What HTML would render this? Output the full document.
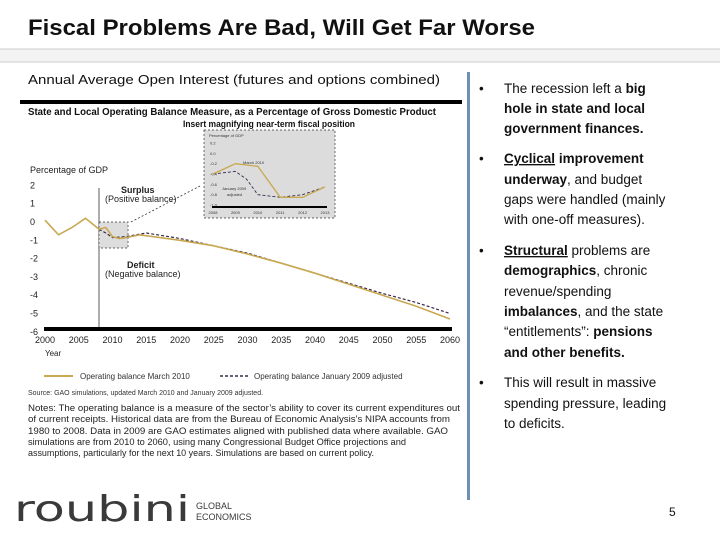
<!DOCTYPE html>
<html><head><meta charset="utf-8"><style>
html,body{margin:0;padding:0;background:#fff;}
svg{display:block;font-family:"Liberation Sans",sans-serif;}
</style></head><body>
<svg id="slide" width="720" height="540" viewBox="0 0 720 540">
<text x="28" y="35" font-size="22" font-weight="bold" fill="#111" textLength="507" lengthAdjust="spacingAndGlyphs">Fiscal Problems Are Bad, Will Get Far Worse</text>
<rect x="0" y="49" width="720" height="13" fill="#f3f3f3"/>
<line x1="0" y1="49" x2="720" y2="49" stroke="#ccc" stroke-width="1"/>
<line x1="0" y1="62" x2="720" y2="62" stroke="#ccc" stroke-width="1"/>
<text x="28" y="84" font-size="13" fill="#111" textLength="412" lengthAdjust="spacingAndGlyphs">Annual Average Open Interest (futures and options combined)</text>
<rect x="20" y="100" width="442" height="4" fill="#000"/>
<text x="28" y="115" font-size="10" font-weight="bold" fill="#111" textLength="408" lengthAdjust="spacingAndGlyphs">State and Local Operating Balance Measure, as a Percentage of Gross Domestic Product</text>
<text x="183" y="127" font-size="9" font-weight="bold" fill="#111" textLength="172" lengthAdjust="spacingAndGlyphs">Insert magnifying near-term fiscal position</text>
<text x="30" y="173" font-size="9" fill="#222">Percentage of GDP</text>
<text x="45" y="356" font-size="8" fill="#222">Year</text>
<g id="main"></g>
<g id="inset"></g>
<text x="121" y="193" font-size="9" font-weight="bold" fill="#222">Surplus</text>
<text x="105" y="202" font-size="9" fill="#222">(Positive balance)</text>
<text x="127" y="268" font-size="9" font-weight="bold" fill="#222">Deficit</text>
<text x="105" y="277" font-size="9" fill="#222">(Negative balance)</text>
<line x1="131" y1="222" x2="200" y2="186" stroke="#333" stroke-width="0.8" stroke-dasharray="2,2"/>
<line x1="44" y1="376" x2="73" y2="376" stroke="#c8a850" stroke-width="2"/>
<text x="80" y="379" font-size="8" fill="#333">Operating balance March 2010</text>
<line x1="220" y1="376" x2="248" y2="376" stroke="#3a2a4a" stroke-width="1.5" stroke-dasharray="3,2"/>
<text x="254" y="379" font-size="8" fill="#333">Operating balance January 2009 adjusted</text>
<text x="28" y="395" font-size="7" fill="#333">Source: GAO simulations, updated March 2010 and January 2009 adjusted.</text>
<g font-size="9" fill="#222">
<text x="28" y="411" textLength="432" lengthAdjust="spacingAndGlyphs">Notes: The operating balance is a measure of the sector’s ability to cover its current expenditures out</text>
<text x="28" y="422" textLength="422" lengthAdjust="spacingAndGlyphs">of current receipts. Historical data are from the Bureau of Economic Analysis's NIPA accounts from</text>
<text x="28" y="434" textLength="420" lengthAdjust="spacingAndGlyphs">1980 to 2008. Data in 2009 are GAO estimates aligned with published data where available. GAO</text>
<text x="28" y="445" textLength="378" lengthAdjust="spacingAndGlyphs">simulations are from 2010 to 2060, using many Congressional Budget Office projections and</text>
<text x="28" y="456" textLength="346" lengthAdjust="spacingAndGlyphs">assumptions, particularly for the next 10 years. Simulations are based on current policy.</text>
</g>
<text x="14" y="521" font-family="DejaVu Sans, sans-serif" font-size="36" fill="#3a3a3a" textLength="176" lengthAdjust="spacingAndGlyphs">roubini</text>
<text x="196" y="509" font-size="9" fill="#3a3a3a">GLOBAL</text>
<text x="196" y="520" font-size="9" fill="#3a3a3a">ECONOMICS</text>
<rect x="467" y="72" width="3" height="428" fill="#6f8fb5"/>
<g font-size="13.5" fill="#111">
<text x="479" y="93">•</text><text x="504" y="93">The recession left a <tspan font-weight="bold">big</tspan></text>
<text x="504" y="113" font-weight="bold">hole in state and local</text>
<text x="504" y="133" font-weight="bold">government finances.</text>
<text x="479" y="163">•</text><text x="504" y="163"><tspan font-weight="bold" text-decoration="underline">Cyclical</tspan> <tspan font-weight="bold">improvement</tspan></text>
<text x="504" y="184"><tspan font-weight="bold">underway</tspan>, and budget</text>
<text x="504" y="204">gaps were handled (mainly</text>
<text x="504" y="224">with one-off measures).</text>
<text x="479" y="255">•</text><text x="504" y="255"><tspan font-weight="bold" text-decoration="underline">Structural</tspan> problems are</text>
<text x="504" y="275"><tspan font-weight="bold">demographics</tspan>, chronic</text>
<text x="504" y="296">revenue/spending</text>
<text x="504" y="316"><tspan font-weight="bold">imbalances</tspan>, and the state</text>
<text x="504" y="336">“entitlements”: <tspan font-weight="bold">pensions</tspan></text>
<text x="504" y="357" font-weight="bold">and other benefits.</text>
<text x="479" y="387">•</text><text x="504" y="387">This will result in massive</text>
<text x="504" y="408">spending pressure, leading</text>
<text x="504" y="428">to deficits.</text>
</g>
<text x="669" y="516" font-size="12" fill="#111">5</text>
</svg>
<script>
const years = [2000,2002,2004,2006,2007,2008,2009,2010,2011,2012,2014,2020,2025,2030,2035,2040,2045,2050,2055,2060];
const march2010 = [0.1,-0.7,-0.3,0.2,-0.1,-0.4,-0.3,-0.8,-0.9,-0.85,-0.7,-1.0,-1.3,-1.75,-2.25,-2.8,-3.4,-4.0,-4.6,-5.3];
const yearsJan = [2008,2009,2010,2012,2015,2020,2025,2030,2035,2040,2045,2050,2055,2060];
const jan2009 = [-0.4,-0.6,-0.85,-0.8,-0.6,-0.9,-1.3,-1.7,-2.25,-2.8,-3.35,-3.9,-4.4,-5.0];
const yTicks = [2,1,0,-1,-2,-3,-4,-5,-6];
const xTicks = [2000,2005,2010,2015,2020,2025,2030,2035,2040,2045,2050,2055,2060];
const insetYears = [2008,2009,2010,2011,2012,2013];
const insetMarch = [-0.4,-0.2,-0.25,-0.85,-0.85,-0.65];
const insetJanYears = [2008,2009,2009.5,2010,2011,2012,2013];
const insetJan = [-0.4,-0.35,-0.5,-0.8,-0.85,-0.8,-0.65];
const insetYTicks = [0.2,0,-0.2,-0.4,-0.6,-0.8,-1.0];
const insetXTicks = [2008,2009,2010,2011,2012,2013];

const NS='http://www.w3.org/2000/svg';
function mk(tag,attrs,parent){const e=document.createElementNS(NS,tag);for(const k in attrs)e.setAttribute(k,attrs[k]);parent.appendChild(e);return e;}
const xs=y=>45+(y-2000)*405/60;
const ys=v=>222-v*18.3;
const main=document.getElementById('main');
yTicks.forEach(t=>{const e=mk('text',{x:30,y:ys(t)+3,'font-size':9,fill:'#222'},main);e.textContent=t;

});
const axis=mk('rect',{x:44,y:327,width:408,height:4,fill:'#000'},main);


xTicks.forEach(t=>{const e=mk('text',{x:xs(t),y:343,'font-size':9,fill:'#222','text-anchor':'middle'},main);e.textContent=t;

});
const vl=mk('line',{x1:xs(2008),y1:188,x2:xs(2008),y2:327,stroke:'#333','stroke-width':0.8},main);


const box=mk('rect',{x:xs(2008),y:222,width:xs(2012.3)-xs(2008),height:26,fill:'#ddd',stroke:'#333','stroke-width':0.7,'stroke-dasharray':'2,2'},main);


function path(xa,va,fx,fy){return xa.map((x,i)=>(i?'L':'M')+fx(x).toFixed(1)+','+fy(va[i]).toFixed(1)).join('');}
const pj=mk('path',{d:path(yearsJan,jan2009,xs,ys),fill:'none',stroke:'#3a2a4a','stroke-width':1.2,'stroke-dasharray':'3,2'},main);


const pm=mk('path',{d:path(years,march2010,xs,ys),fill:'none',stroke:'#c8a850','stroke-width':1.6},main);



const inset=document.getElementById('inset');
const ib=mk('rect',{x:204,y:130,width:131,height:88,fill:'#dcdcdc',stroke:'#333','stroke-width':0.7,'stroke-dasharray':'2,2'},inset);


const it=mk('text',{x:209,y:137,'font-size':4,fill:'#333'},inset);it.textContent='Percentage of GDP';


const ixs=y=>213+(y-2008)*112/5;
const iys=v=>143+(0.2-v)*62/1.2;
insetYTicks.forEach(t=>{const e=mk('text',{x:210,y:iys(t)+1.5,'font-size':4,fill:'#333'},inset);e.textContent=t.toFixed(1);

});
const ia=mk('rect',{x:212,y:206,width:115,height:2,fill:'#000'},inset);


insetXTicks.forEach(t=>{const e=mk('text',{x:ixs(t),y:214,'font-size':4,fill:'#333','text-anchor':'middle'},inset);e.textContent=t;

});
const ij=mk('path',{d:path(insetJanYears,insetJan,ixs,iys),fill:'none',stroke:'#3a2a4a','stroke-width':0.9,'stroke-dasharray':'3,2'},inset);


const im=mk('path',{d:path(insetYears,insetMarch,ixs,iys),fill:'none',stroke:'#c8a850','stroke-width':1.3},inset);


const l1=mk('text',{x:243,y:164,'font-size':4,fill:'#333'},inset);l1.textContent='March 2010';


const l2=mk('text',{x:222,y:190,'font-size':4,fill:'#333'},inset);l2.textContent='January 2009';


const l3=mk('text',{x:227,y:196,'font-size':4,fill:'#333'},inset);l3.textContent='adjusted';


</script>
</body></html>
